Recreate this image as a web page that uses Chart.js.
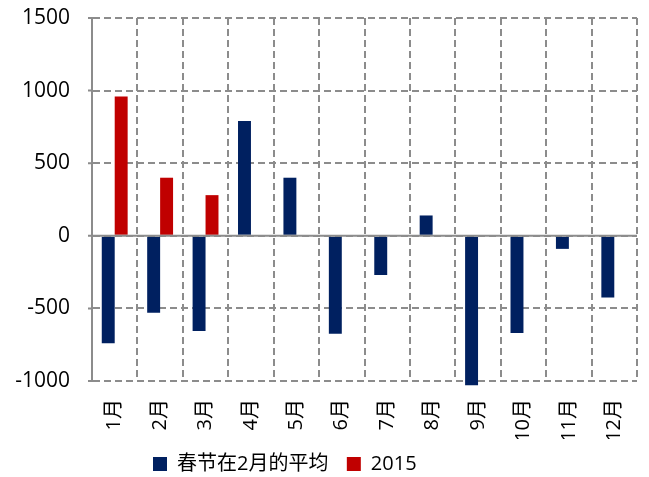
<!DOCTYPE html>
<html>
<head>
<meta charset="utf-8">
<script src="https://cdn.jsdelivr.net/npm/chart.js@4.4.1/dist/chart.umd.min.js"></script>
<style>
  html, body { margin: 0; padding: 0; background: #fff; }
  #wrap { width: 649px; height: 477px; }
</style>
</head>
<body>
<div id="wrap"><canvas id="c" width="649" height="477"></canvas></div>
<script>
// datos
const meses = ["1月","2月","3月","4月","5月","6月","7月","8月","9月","10月","11月","12月"];
const promedioFeb = [-740, -530, -655, 790, 400, -675, -270, 140, -1030, -670, -90, -425];
const serie2015 = [960, 400, 280, null, null, null, null, null, null, null, null, null];
const yTicks = [-1000, -500, 0, 500, 1000, 1500];

const fuente = "'Open Sans', 'Noto Sans CJK SC', sans-serif";
const gris = "#8c8c8c";

const ctx = document.getElementById("c");
new Chart(ctx, {
  type: "bar",
  data: {
    labels: meses,
    datasets: [
      { label: "春节在2月的平均  ", data: promedioFeb, backgroundColor: "#002060", clip: false },
      { label: "2015", data: serie2015, backgroundColor: "#C00000", clip: false }
    ]
  },
  options: {
    responsive: false,
    animation: false,
    layout: { padding: { left: 0, right: 12, top: 18, bottom: 0 } },
    datasets: { bar: { barPercentage: 1, categoryPercentage: 0.57 } },
    plugins: {
      tooltip: { enabled: false },
      legend: {
        position: "bottom",
        labels: {
          color: "#000",
          font: { family: fuente, size: 20 },
          boxWidth: 14, boxHeight: 14,
          padding: 8
        }
      }
    },
    scales: {
      x: {
        grid: { offset: true, color: gris, lineWidth: 2, drawTicks: false },
        border: { display: false, dash: [7, 4] },
        ticks: { color: "#000", font: { family: fuente, size: 20 }, minRotation: 90, maxRotation: 90, padding: 18 },
        afterFit: s => { s.height = 58; s.paddingLeft = 0; s.paddingRight = 0; }
      },
      y: {
        min: -1000, max: 1500,
        afterBuildTicks: s => { s.ticks = yTicks.map(v => ({ value: v })); },
        grid: { color: gris, lineWidth: 2, drawTicks: false },
        border: { display: true, color: gris, width: 2, dash: [7, 4] },
        ticks: { color: "#000", font: { family: fuente, size: 21 }, padding: 22, callback: v => String(v) },
        afterFit: s => { s.width = 92; s.paddingTop = 0; s.paddingBottom = 0; }
      }
    }
  },
  plugins: [{
    // mover la leyenda como en el original, eje y solido y linea del cero
    id: "ejes",
    beforeDraw(chart) {
      const lg = chart.legend;
      if (lg && lg.legendHitBoxes && lg.legendHitBoxes.length) {
        const dx = 153 - lg.legendHitBoxes[0].left;
        lg.left += dx; lg.right += dx;
        const dy = 446 - lg.top;
        lg.top += dy; lg.bottom += dy;
      }
    },
    afterDatasetsDraw(chart) {
      const { ctx, chartArea: a, scales: { y } } = chart;
      ctx.save();
      ctx.strokeStyle = gris;
      ctx.lineWidth = 2;
      ctx.setLineDash([]);
      ctx.beginPath();
      ctx.moveTo(a.left, a.top); ctx.lineTo(a.left, a.bottom);
      yTicks.forEach(v => {
        const py = y.getPixelForValue(v);
        ctx.moveTo(a.left - 4, py); ctx.lineTo(a.left, py);
      });
      const y0 = y.getPixelForValue(0);
      ctx.moveTo(a.left, y0); ctx.lineTo(a.right, y0);
      ctx.stroke();
      ctx.restore();
    }
  }]
});
</script>
</body>
</html>
